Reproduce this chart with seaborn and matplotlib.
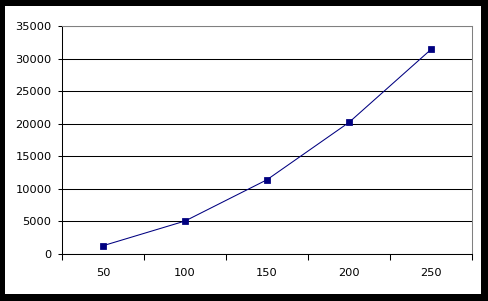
import matplotlib
matplotlib.use("Agg")
import matplotlib.pyplot as plt
import seaborn as sns
import pandas as pd
from matplotlib.patches import Rectangle
from matplotlib.ticker import FixedLocator, NullFormatter

categories = ["50", "100", "150", "200", "250"]
values = [1270, 5060, 11400, 20200, 31400]
y_ticks = [0, 5000, 10000, 15000, 20000, 25000, 30000, 35000]

df = pd.DataFrame({"x": categories, "y": values})

sns.set_style("white")
plt.rcParams["font.family"] = ["DejaVu Sans"]

W, H = 488, 301
fig = plt.figure(figsize=(W / 100, H / 100), dpi=100)
fig.patch.set_facecolor("black")
fig.patches.append(Rectangle((5 / W, 1 - 294 / H), 476 / W, 288 / H,
                             transform=fig.transFigure, facecolor="white",
                             edgecolor="none", zorder=-10))

ax = fig.add_axes([62 / W, 1 - 254 / H, 410 / W, 228 / H])
ax.set_zorder(5)
ax.set_facecolor("white")

sns.pointplot(data=df, x="x", y="y", ax=ax, color="#000080", markers="s",
              linestyles="-", markersize=4.3, linewidth=0.75,
              errorbar=None)

ax.set_xlim(-0.5, 4.5)
ax.set_ylim(0, 35000)
ax.set_xlabel("")
ax.set_ylabel("")

# x: tick marks at category boundaries, labels at category centres
ax.xaxis.set_major_locator(FixedLocator([i - 0.5 for i in range(6)]))
ax.xaxis.set_major_formatter(NullFormatter())
ax.xaxis.set_minor_locator(FixedLocator(list(range(5))))
ax.set_xticklabels(categories, minor=True)
ax.tick_params(axis="x", which="major", length=4, width=0.75, color="black",
               direction="out", bottom=True)
ax.tick_params(axis="x", which="minor", length=0, pad=10, labelsize=8.2,
               labelcolor="black")

ax.set_yticks(y_ticks)
ax.set_yticklabels([str(v) for v in y_ticks])
ax.tick_params(axis="y", which="major", length=3, width=0.75, color="black",
               direction="out", left=True, pad=4.5, labelsize=8.2,
               labelcolor="black")

ax.set_axisbelow(True)
ax.yaxis.grid(True, color="black", linewidth=0.75)
ax.xaxis.grid(False)

for side in ["left", "bottom"]:
    ax.spines[side].set_visible(True)
    ax.spines[side].set_color("black")
    ax.spines[side].set_linewidth(0.75)
for side in ["top", "right"]:
    ax.spines[side].set_visible(True)
    ax.spines[side].set_color("#808080")
    ax.spines[side].set_linewidth(0.75)

fig.savefig("out.png", dpi=100, facecolor=fig.get_facecolor())
